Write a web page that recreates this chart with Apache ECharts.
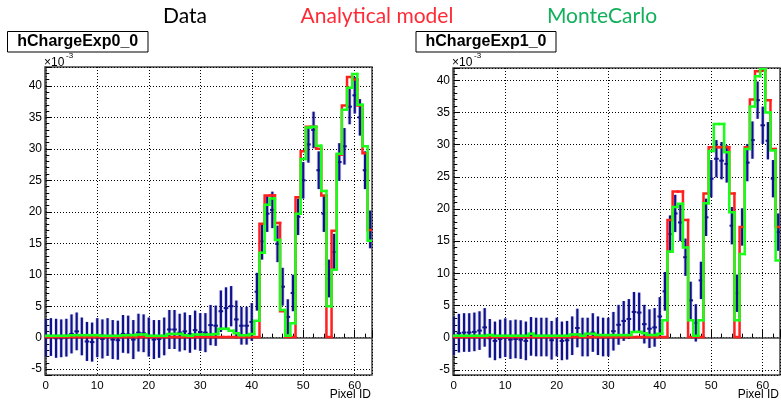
<!DOCTYPE html>
<html>
<head>
<meta charset="utf-8">
<script src="https://cdn.jsdelivr.net/npm/echarts@6/dist/echarts.min.js"></script>
<style>
    html, body { margin: 0; padding: 0; background: #fff; }
    #main { width: 781px; height: 404px; }
</style>
</head>
<body>
<div id="main"></div>
<script>
// pixel index (bin centre), same for both panels
const pixelIds = [
    0, 1, 2, 3, 4, 5, 6, 7, 8, 9, 10, 11, 12, 13, 14, 15,
    16, 17, 18, 19, 20, 21, 22, 23, 24, 25, 26, 27, 28, 29, 30, 31,
    32, 33, 34, 35, 36, 37, 38, 39, 40, 41, 42, 43, 44, 45, 46, 47,
    48, 49, 50, 51, 52, 53, 54, 55, 56, 57, 58, 59, 60, 61, 62, 63
];

// values in units of 1e-3
// hChargeExp0_0
const dataExp0 = [
    0.0, 0.1, -0.1, -0.1, 0.0, 0.6, 1.0, 0.2, -0.6, -0.7,
    0.0, -0.2, 0.1, -0.3, -0.4, 0.6, 0.5, -0.3, 0.8, 0.7,
    0.1, -0.3, -0.2, 0.2, 1.3, 1.3, 0.8, 1.0, 0.6, 1.2,
    0.9, 0.8, 2.0, 1.9, 4.2, 4.7, 5.0, 2.9, 1.9, 1.9,
    2.5, 7.3, 15.3, 19.7, 20.3, 14.9, 8.1, 3.3, 7.1, 19.2,
    25.0, 30.7, 33.0, 26.6, 19.7, 9.4, 13.6, 27.9, 30.4, 36.7,
    38.5, 35.0, 26.6, 17.2
];
const errExp0 = [
    3.0, 3.0, 3.1, 3.0, 3.0, 3.1, 3.0, 3.0, 3.1, 3.1,
    3.1, 3.1, 3.0, 3.1, 3.1, 3.0, 3.0, 3.1, 3.0, 3.0,
    3.1, 3.1, 3.0, 3.0, 3.1, 3.1, 3.0, 3.0, 3.0, 3.1,
    3.0, 3.1, 3.2, 3.2, 3.3, 3.3, 3.2, 3.0, 3.0, 3.0,
    3.0, 3.0, 2.9, 2.9, 2.9, 2.9, 3.0, 2.8, 2.9, 2.9,
    2.9, 2.9, 2.9, 3.0, 2.9, 3.0, 2.9, 3.0, 2.9, 2.8,
    2.9, 2.9, 3.0, 3.0
];
const modelExp0 = [
    0.1, 0.1, 0.1, 0.1, 0.1, 0.1, 0.1, 0.1, 0.1, 0.1,
    0.1, 0.1, 0.1, 0.1, 0.1, 0.1, 0.1, 0.1, 0.1, 0.1,
    0.1, 0.1, 0.1, 0.1, 0.1, 0.1, 0.1, 0.1, 0.1, 0.1,
    0.1, 0.1, 0.1, 0.1, 0.1, 0.1, 0.1, 0.1, 0.1, 0.1,
    0.1, 0.1, 18.1, 22.6, 22.6, 18.2, 4.2, 0.1, 0.1, 22.3,
    29.6, 33.5, 33.5, 30.0, 22.6, 0.1, 17.0, 29.1, 36.9, 41.4,
    41.0, 36.9, 29.3, 17.1
];
const mcExp0 = [
    0.3, 0.3, 0.3, 0.3, 0.3, 0.4, 0.4, 0.4, 0.4, 0.4,
    0.4, 0.3, 0.3, 0.3, 0.3, 0.4, 0.4, 0.4, 0.5, 0.5,
    0.3, 0.3, 0.3, 0.3, 0.6, 0.6, 0.6, 0.4, 0.3, 0.5,
    0.5, 0.5, 0.5, 0.6, 1.4, 1.4, 1.1, 0.7, 0.4, 0.4,
    0.6, 2.7, 13.5, 21.1, 22.1, 15.5, 4.4, 0.3, 2.3, 19.7,
    28.4, 33.4, 33.5, 30.5, 23.3, 5.0, 10.8, 29.2, 36.2, 39.7,
    41.9, 37.0, 30.4, 15.4
];

// hChargeExp1_0
const dataExp1 = [
    0.3, 0.7, 0.8, 0.8, 0.9, 1.1, 1.6, -0.1, -0.5, -0.2,
    0.0, -0.3, -0.2, -0.3, -0.5, 0.2, 0.1, 0.1, 0.1, -0.4,
    0.1, -0.5, -0.4, 0.3, 1.5, 0.1, 0.1, 0.8, 0.3, 0.1,
    0.1, 1.0, 2.0, 2.6, 2.9, 4.0, 3.9, 2.1, 1.4, 1.6,
    3.3, 7.2, 16.1, 19.3, 17.9, 12.5, 5.8, 2.3, 8.9, 18.7,
    24.7, 27.8, 27.5, 27.0, 17.4, 6.9, 17.2, 27.2, 30.7, 36.9,
    33.0, 30.6, 24.7, 16.4
];
const errExp1 = [
    3.0, 3.0, 3.0, 3.0, 3.0, 3.0, 3.0, 3.0, 3.0, 3.0,
    3.0, 3.0, 3.0, 3.0, 3.0, 3.0, 3.0, 3.0, 3.0, 3.0,
    3.0, 3.0, 3.0, 3.0, 3.0, 3.0, 3.0, 3.0, 3.0, 3.0,
    3.0, 3.0, 3.1, 3.1, 3.1, 3.1, 3.1, 3.0, 3.0, 3.0,
    3.0, 3.0, 2.9, 2.9, 2.9, 2.9, 2.9, 2.9, 2.9, 2.9,
    2.9, 2.9, 2.9, 2.9, 2.9, 2.9, 2.9, 2.9, 2.9, 2.9,
    2.9, 2.9, 2.9, 2.9
];
const modelExp1 = [
    0.1, 0.1, 0.1, 0.1, 0.1, 0.1, 0.1, 0.1, 0.1, 0.1,
    0.1, 0.1, 0.1, 0.1, 0.1, 0.1, 0.1, 0.1, 0.1, 0.1,
    0.1, 0.1, 0.1, 0.1, 0.1, 0.1, 0.1, 0.1, 0.1, 0.1,
    0.1, 0.1, 0.1, 0.1, 0.1, 0.1, 0.1, 0.1, 0.1, 0.1,
    0.1, 0.1, 18.3, 22.7, 22.7, 18.3, 0.1, 0.1, 0.1, 22.4,
    29.6, 29.6, 29.6, 29.6, 22.4, 0.1, 17.2, 29.6, 37.0, 41.4,
    41.5, 36.9, 29.3, 17.2
];
const mcExp1 = [
    0.3, 0.3, 0.3, 0.3, 0.3, 0.3, 0.3, 0.4, 0.3, 0.3,
    0.3, 0.3, 0.3, 0.3, 0.3, 0.6, 0.3, 0.3, 0.3, 0.3,
    0.3, 0.3, 0.3, 0.5, 0.5, 0.3, 0.6, 0.6, 0.4, 0.4,
    0.4, 0.4, 0.4, 0.4, 0.4, 0.9, 0.9, 0.7, 0.4, 0.4,
    0.6, 2.7, 13.4, 20.3, 20.8, 14.0, 2.7, 0.3, 2.7, 20.9,
    29.0, 33.2, 33.2, 28.8, 19.5, 2.7, 13.0, 29.3, 35.9, 40.6,
    41.8, 35.0, 29.1, 12.0
];

const RED = "#ff1f1f",
    GREEN = "#19ff19",
    NAVY = "#10128c";

let myChart = echarts.init(document.getElementById("main"));

// histogram outline: each bin draws its left riser and its top
function stepItem(color) {
    return function (params, api) {
        let k = api.value(0),
            v = api.value(1),
            p = api.value(2);
        let a = api.coord([k - 0.5, p]),
            b = api.coord([k - 0.5, v]),
            c = api.coord([k + 0.5, v]);
        return {
            type: "polyline",
            shape: { points: [a, b, c] },
            style: { stroke: color, lineWidth: 2.5, fill: null, lineCap: "square", lineJoin: "miter" },
        };
    };
}

function errorItem(params, api) {
    let k = api.value(0),
        v = api.value(1),
        e = api.value(2);
    let top = api.coord([k, v + e]),
        bot = api.coord([k, v - e]),
        l = api.coord([k - 0.45, v]),
        r = api.coord([k + 0.45, v]);
    return {
        type: "group",
        children: [
            {
                type: "line",
                shape: { x1: top[0], y1: top[1], x2: bot[0], y2: bot[1] },
                style: { stroke: "rgba(90,90,200,0.22)", lineWidth: 4 },
            },
            {
                type: "line",
                shape: { x1: top[0], y1: top[1], x2: bot[0], y2: bot[1] },
                style: { stroke: NAVY, lineWidth: 2.2 },
            },
            {
                type: "line",
                shape: { x1: l[0], y1: l[1], x2: r[0], y2: r[1] },
                style: { stroke: NAVY, lineWidth: 2 },
            },
        ],
    };
}

function stepData(values) {
    return values.map((v, i) => [pixelIds[i], v, i === 0 ? v : values[i - 1]]);
}

function errData(values, errs) {
    return values.map((v, i) => [pixelIds[i], v, errs[i]]);
}

function xAxisOpt(idx) {
    return {
        type: "value",
        gridIndex: idx,
        min: -0.15,
        max: 63.35,
        splitNumber: 6,
        axisLine: { show: true, lineStyle: { color: "#444", width: 1.5 } },
        axisTick: { show: true, inside: true, length: 8, lineStyle: { color: "#000" } },
        minorTick: { show: true, splitNumber: 5, length: 4, lineStyle: { color: "#000" } },
        axisLabel: {
            show: true,
            showMinLabel: false,
            showMaxLabel: false,
            margin: 5,
            color: "#000",
            fontSize: 11.5,
            fontFamily: "Liberation Sans",
        },
        splitLine: { show: true, lineStyle: { type: [1, 2], color: "#000", width: 1 } },
    };
}

function yAxisOpt(idx, min, max) {
    return {
        type: "value",
        gridIndex: idx,
        min: min,
        max: max,
        splitNumber: 10,
        axisLine: { show: true, lineStyle: { color: "#444", width: 1.5 } },
        axisTick: { show: true, inside: true, length: 6, lineStyle: { color: "#000" } },
        minorTick: { show: true, splitNumber: 5, length: 3.5, lineStyle: { color: "#000" } },
        axisLabel: {
            show: true,
            showMinLabel: false,
            showMaxLabel: false,
            margin: 3,
            color: "#000",
            fontSize: 12,
            fontFamily: "Liberation Sans",
        },
        splitLine: { show: true, lineStyle: { type: [1, 2], color: "#000", width: 1 } },
    };
}

function panelSeries(idx, data, err, model, mc) {
    return [
        {
            type: "custom",
            xAxisIndex: idx,
            yAxisIndex: idx,
            renderItem: errorItem,
            data: errData(data, err),
            clip: true,
            z: 2,
        },
        {
            type: "custom",
            xAxisIndex: idx,
            yAxisIndex: idx,
            renderItem: stepItem(RED),
            data: stepData(model),
            clip: true,
            z: 3,
        },
        {
            type: "custom",
            xAxisIndex: idx,
            yAxisIndex: idx,
            renderItem: stepItem(GREEN),
            data: stepData(mc),
            clip: true,
            z: 4,
        },
    ];
}

function titleBox(x, w, text) {
    return {
        type: "group",
        children: [
            {
                type: "rect",
                shape: { x: x, y: 31.5, width: w, height: 20.5 },
                style: { fill: "#fff", stroke: "#000", lineWidth: 1 },
            },
            {
                type: "text",
                x: x + w / 2,
                y: 42,
                style: {
                    text: text,
                    fill: "#000",
                    font: "bold 16px 'Liberation Sans'",
                    align: "center",
                    verticalAlign: "middle",
                },
            },
        ],
    };
}

function exponent(x) {
    return [
        {
            type: "text",
            x: x,
            y: 57,
            style: { text: "×10", fill: "#000", font: "12px 'Liberation Sans'", align: "left", verticalAlign: "top" },
        },
        {
            type: "text",
            x: x + 22,
            y: 52,
            style: { text: "-3", fill: "#000", font: "8px 'Liberation Sans'", align: "left", verticalAlign: "top" },
        },
    ];
}

function headText(x, text, color) {
    return {
        type: "text",
        x: x,
        y: 16,
        style: { text: text, fill: color, font: "21px Lato", align: "center", verticalAlign: "middle" },
    };
}

function axisTitle(x) {
    return {
        type: "text",
        x: x,
        y: 389,
        style: { text: "Pixel ID", fill: "#000", font: "12px 'Liberation Sans'", align: "right", verticalAlign: "top" },
    };
}

let option = {
    animation: false,
    backgroundColor: "#fff",
    grid: [
        { left: 45, right: 409, top: 67, bottom: 29, show: true, borderColor: "#444", borderWidth: 1.5, backgroundColor: "#fff" },
        { left: 453, right: 1, top: 68, bottom: 29, show: true, borderColor: "#444", borderWidth: 1.5, backgroundColor: "#fff" },
    ],
    xAxis: [xAxisOpt(0), xAxisOpt(1)],
    yAxis: [yAxisOpt(0, -5.93, 43.0), yAxisOpt(1, -5.8, 41.9)],
    series: [].concat(
        panelSeries(0, dataExp0, errExp0, modelExp0, mcExp0),
        panelSeries(1, dataExp1, errExp1, modelExp1, mcExp1)
    ),
    graphic: [
        headText(185, "Data", "#000"),
        headText(377, "Analytical model", "#ff2a36"),
        headText(602, "MonteCarlo", "#12b05a"),
        titleBox(7.5, 140.5, "hChargeExp0_0"),
        titleBox(416, 140, "hChargeExp1_0"),
        axisTitle(371),
        axisTitle(779),
    ].concat(exponent(44), exponent(452)),
};

option && myChart.setOption(option);
</script>
</body>
</html>
